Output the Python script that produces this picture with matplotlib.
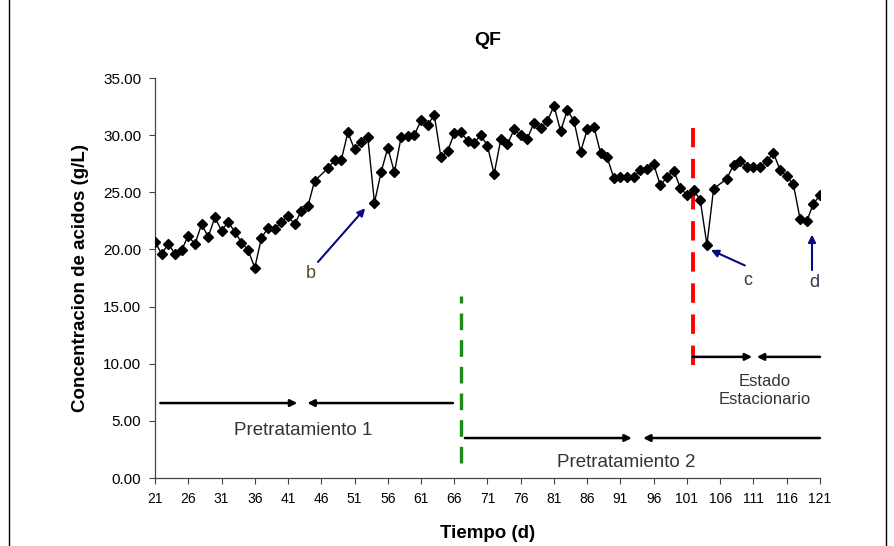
import matplotlib
matplotlib.use("Agg")
import matplotlib.pyplot as plt
from matplotlib.lines import Line2D

plt.rcParams['font.family'] = ['Liberation Sans', 'DejaVu Sans']

# --- datos: tiempo (d) y concentracion de acidos (g/L) ---
dias = [21, 22, 23, 24, 25, 26, 27, 28, 29, 30, 31, 32, 33, 34, 35, 36, 37, 38, 39, 40,
        41, 42, 43, 44, 45, 47, 48, 49, 50, 51, 52, 53, 54, 55, 56, 57, 58, 59, 60,
        61, 62, 63, 64, 65, 66, 67, 68, 69, 70, 71, 72, 73, 74, 75, 76, 77, 78, 79, 80,
        81, 82, 83, 84, 85, 86, 87, 88, 89, 90, 91, 92, 93, 94, 95, 96, 97, 98, 99, 100,
        101, 102, 103, 104, 105, 107, 108, 109, 110, 111, 112, 113, 114, 115, 116, 117,
        118, 119, 120, 121]
conc = [20.67, 19.6, 20.5, 19.6, 19.95, 21.2, 20.45, 22.2, 21.1, 22.8, 21.65, 22.4, 21.55,
        20.6, 19.95, 18.4, 21.0, 21.9, 21.75, 22.4, 22.9, 22.2, 23.4, 23.8, 26.0, 27.1,
        27.8, 27.8, 30.25, 28.75, 29.4, 29.8, 24.1, 26.75, 28.9, 26.75, 29.8, 29.9, 30.0,
        31.3, 30.9, 31.75, 28.05, 28.6, 30.15, 30.25, 29.5, 29.35, 30.0, 29.05, 26.6, 29.65,
        29.2, 30.5, 30.0, 29.7, 31.1, 30.6, 31.25, 32.55, 30.35, 32.2, 31.25, 28.55, 30.5,
        30.75, 28.45, 28.05, 26.25, 26.35, 26.35, 26.35, 26.95, 27.0, 27.45, 25.6, 26.35,
        26.9, 25.4, 24.75, 25.2, 24.3, 20.4, 25.3, 26.2, 27.4, 27.75, 27.2, 27.2, 27.2,
        27.7, 28.45, 26.95, 26.4, 25.7, 22.7, 22.45, 24.0, 24.75]

x_ticks = list(range(21, 122, 5))
y_ticks = [0, 5, 10, 15, 20, 25, 30, 35]

fig = plt.figure(figsize=(8.94, 5.46), dpi=100)
ax = fig.add_axes([0.1734, 0.1245, 0.7438, 0.7326])

ax.plot(dias, conc, color='black', lw=1.0, marker='D', ms=5.5,
        markerfacecolor='black', markeredgecolor='black', zorder=3)

ax.set_xlim(21, 121)
ax.set_ylim(0, 35)
ax.set_xticks(x_ticks)
ax.set_yticks(y_ticks)
ax.set_yticklabels([f"{v:.2f}" for v in y_ticks], fontsize=11)
ax.set_xticklabels([str(v) for v in x_ticks], fontsize=10)
ax.tick_params(direction='out', length=4, width=0.8, color='#444444', pad=6)
for s in ['top', 'right']:
    ax.spines[s].set_visible(False)
for s in ['left', 'bottom']:
    ax.spines[s].set_color('#444444')
    ax.spines[s].set_linewidth(0.9)

ax.set_title("QF", fontsize=14, fontweight='bold', pad=24)
ax.set_xlabel("Tiempo (d)", fontsize=13.5, fontweight='bold', labelpad=14)
ax.set_ylabel("Concentracion de acidos (g/L)", fontsize=13.5, fontweight='bold', labelpad=10)

# lineas de cambio de etapa
ax.plot([101.9, 101.9], [9.9, 30.6], color='#ff0000', lw=2.8, dashes=(5, 3), zorder=2)
ax.plot([67.0, 67.0], [1.3, 15.9], color='#1a8a1a', lw=2.4, dashes=(5, 3), zorder=2)

# flechas de puntos b, c, d
flecha_azul = dict(arrowstyle='-|>', color='#0a0a80', lw=1.5, mutation_scale=11,
                   shrinkA=0, shrinkB=0)
ax.annotate("", xy=(52.6, 23.6), xytext=(45.5, 18.9), arrowprops=flecha_azul)
ax.annotate("", xy=(104.6, 19.95), xytext=(109.7, 18.6), arrowprops=flecha_azul)
ax.annotate("", xy=(119.8, 21.3), xytext=(119.8, 18.2), arrowprops=flecha_azul)
ax.text(44.5, 17.9, "b", fontsize=13, color='#5b4a2e', ha='center', va='center')
ax.text(110.2, 17.3, "c", fontsize=13, color='#2f3a4a', ha='center', va='center')
ax.text(120.1, 17.1, "d", fontsize=13, color='#2f3a4a', ha='center', va='center')

# flechas de las etapas
flecha = dict(arrowstyle='-|>', color='black', lw=1.8, mutation_scale=10, shrinkA=0, shrinkB=0)
ax.annotate("", xy=(42.4, 6.56), xytext=(21.8, 6.56), arrowprops=flecha)
ax.annotate("", xy=(43.9, 6.56), xytext=(65.8, 6.56), arrowprops=flecha)
ax.annotate("", xy=(92.7, 3.5), xytext=(67.6, 3.5), arrowprops=flecha)
ax.annotate("", xy=(94.4, 3.5), xytext=(121, 3.5), arrowprops=flecha)
ax.annotate("", xy=(110.8, 10.6), xytext=(101.9, 10.6), arrowprops=flecha)
ax.annotate("", xy=(111.5, 10.6), xytext=(121, 10.6), arrowprops=flecha)

ax.text(43.3, 4.2, "Pretratamiento 1", fontsize=13.5, color='#333333', ha='center', va='center')
ax.text(91.8, 1.4, "Pretratamiento 2", fontsize=13.5, color='#333333', ha='center', va='center')
ax.text(112.7, 7.7, "Estado\nEstacionario", fontsize=12, color='#333333',
        ha='center', va='center', linespacing=1.25)

# marco del grafico
fig.add_artist(Line2D([9 / 894, 9 / 894], [0, 1], color='black', lw=1.0))
fig.add_artist(Line2D([886 / 894, 886 / 894], [0, 1], color='black', lw=1.0))

fig.savefig("out.png", dpi=100)
